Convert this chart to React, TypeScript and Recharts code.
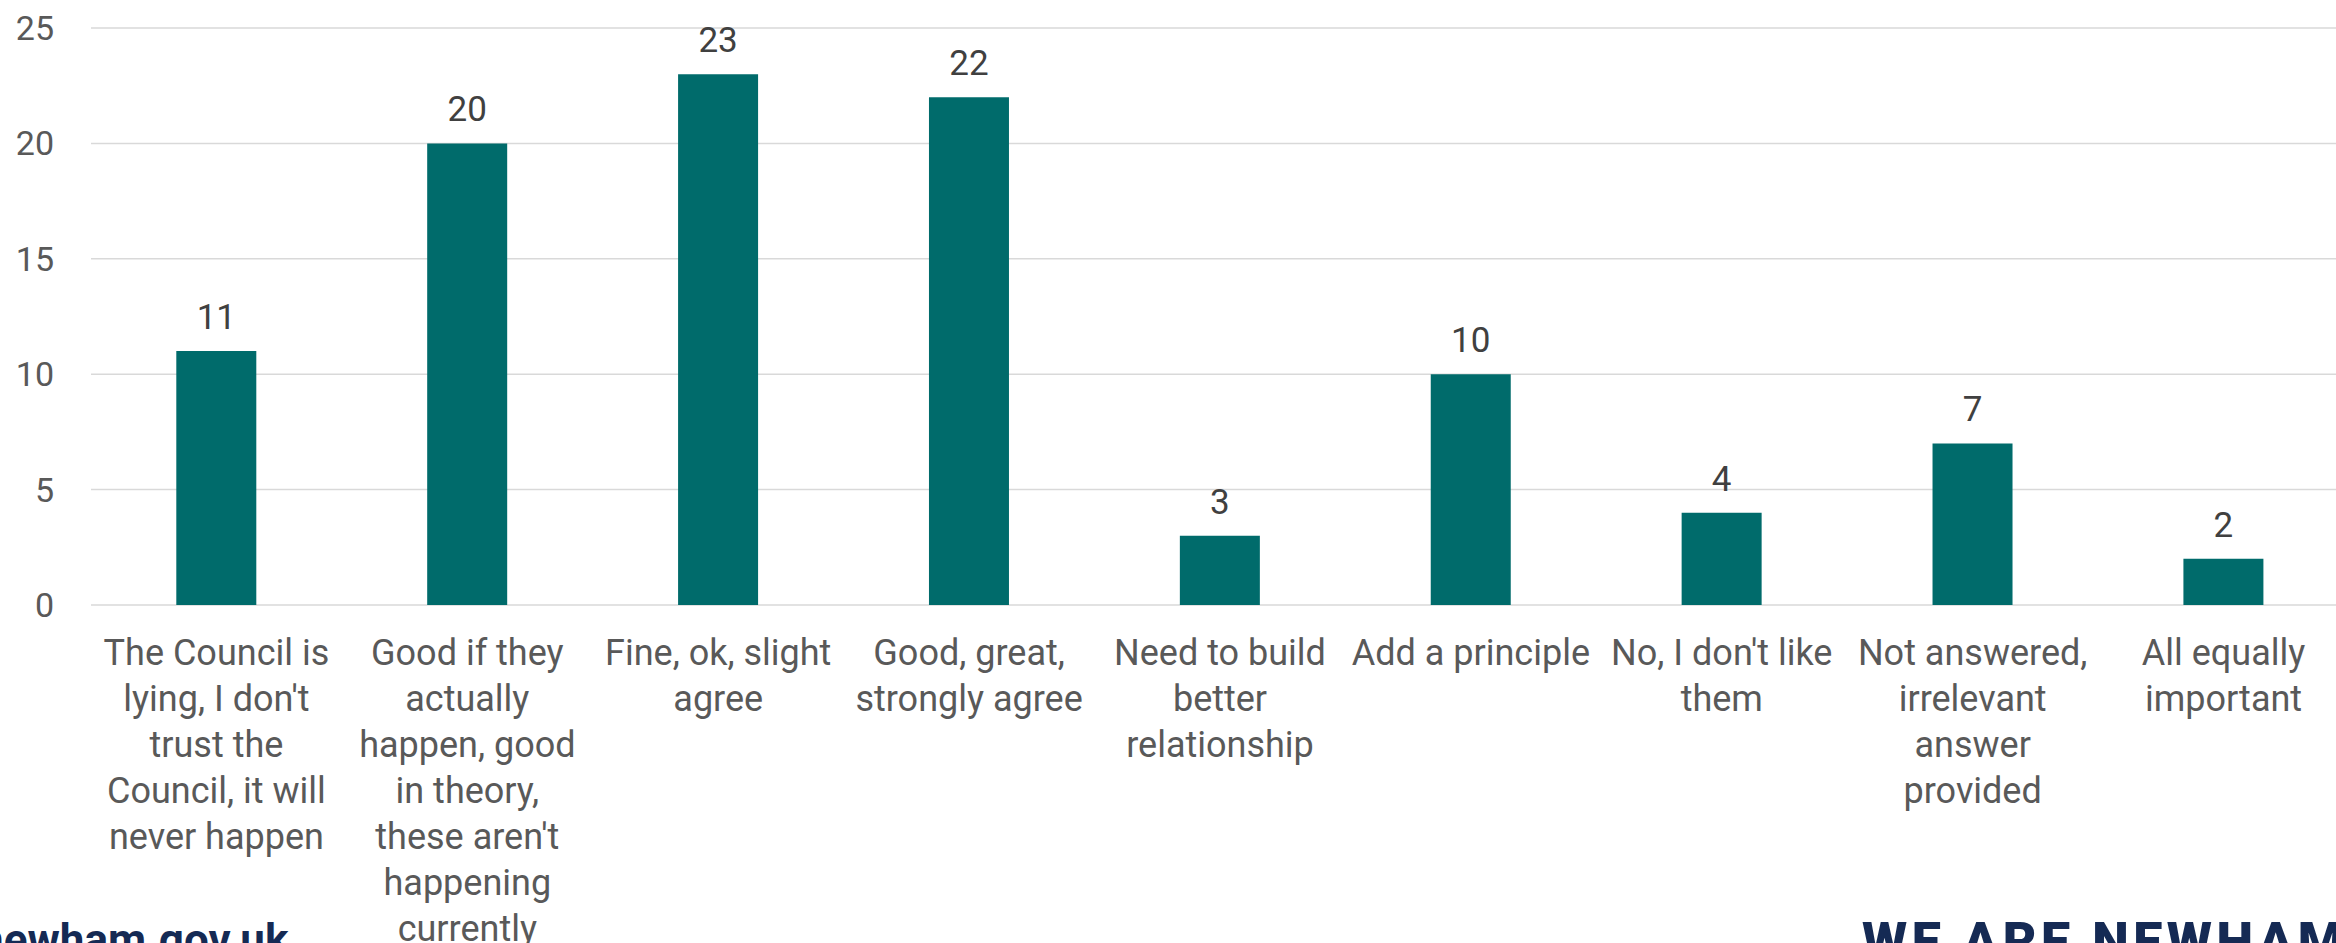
import React from 'react';
import { BarChart, Bar, XAxis, YAxis, CartesianGrid, LabelList } from 'recharts';

// survey answers, line breaks as they wrap in the original
const categories = [
  "The Council is\nlying, I don't\ntrust the\nCouncil, it will\nnever happen",
  "Good if they\nactually\nhappen, good\nin theory,\nthese aren't\nhappening\ncurrently",
  'Fine, ok, slight\nagree',
  'Good, great,\nstrongly agree',
  'Need to build\nbetter\nrelationship',
  'Add a principle',
  "No, I don't like\nthem",
  'Not answered,\nirrelevant\nanswer\nprovided',
  'All equally\nimportant',
];
const counts = [11, 20, 23, 22, 3, 10, 4, 7, 2];
const yTicks = [0, 5, 10, 15, 20, 25];

const data = categories.map((name, i) => ({ name, count: counts[i] }));

const FONT = 'Roboto, "Liberation Sans", sans-serif';

function CategoryTick(props: any) {
  const { x, y, payload } = props;
  const lines = String(payload.value).split('\n');
  return (
    <text x={x} y={y + 60} textAnchor="middle" fill="#595959" fontSize={36} fontFamily={FONT}>
      {lines.map((ln, i) => (
        <tspan key={i} x={x} dy={i === 0 ? 0 : 46}>
          {ln}
        </tspan>
      ))}
    </text>
  );
}

export default function App() {
  return (
    <div style={{ position: 'fixed', left: 0, top: 0, width: 2336, height: 943, background: '#fff', overflow: 'hidden' }}>
      {/* plot area runs a little past the right edge, as in the cropped original */}
      <BarChart
        width={2336}
        height={943}
        data={data}
        margin={{ top: 28, right: -13, left: 0, bottom: 0 }}
        barCategoryGap="34%"
      >
        <CartesianGrid vertical={false} stroke="#d9d9d9" strokeWidth={1.5} />
        <XAxis
          dataKey="name"
          height={338}
          axisLine={false}
          tickLine={false}
          tickSize={0}
          tickMargin={0}
          interval={0}
          tick={<CategoryTick />}
        />
        <YAxis
          width={91}
          domain={[0, 25]}
          ticks={yTicks}
          axisLine={false}
          tickLine={false}
          tickSize={0}
          tickMargin={37}
          tick={{ fill: '#595959', fontSize: 34, fontFamily: FONT }}
        />
        <Bar dataKey="count" fill="#006b6b" isAnimationActive={false}>
          <LabelList
            dataKey="count"
            position="top"
            offset={22}
            fill="#404040"
            fontSize={35}
            fontFamily={FONT}
          />
        </Bar>
      </BarChart>
      <svg width={2336} height={943} style={{ position: 'absolute', left: 0, top: 0, pointerEvents: 'none' }}>
        <text x={-21} y={955} fill="#152a54" fontSize={44} fontWeight={700} fontFamily={FONT}>
          newham.gov.uk
        </text>
        <text x={1862} y={959} fill="#152a54" fontSize={52} fontWeight={900} letterSpacing={4.5} fontFamily={FONT}>
          WE ARE NEWHAM
        </text>
      </svg>
    </div>
  );
}
